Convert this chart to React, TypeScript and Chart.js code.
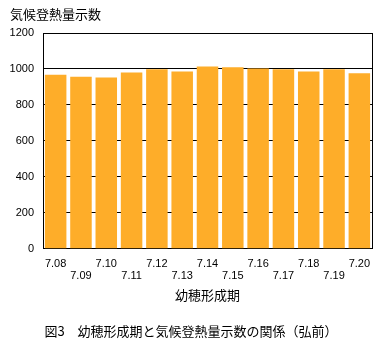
import React, { useEffect, useRef } from "react";
import { Chart, registerables } from "chart.js";

Chart.register(...registerables);

const categories = ["7.08", "7.09", "7.10", "7.11", "7.12", "7.13", "7.14", "7.15", "7.16", "7.17", "7.18", "7.19", "7.20"];
const values = [968, 957, 952, 981, 998, 986, 1014, 1009, 1003, 998, 986, 998, 976];
const yMin = 0;
const yMax = 1200;
const yStep = 200;
const chartTitle = "気候登熱量示数";
const xAxisTitle = "幼穂形成期";
const caption = "図3　幼穂形成期と気候登熱量示数の関係（弘前）";

const JP = "'Noto Sans CJK JP', sans-serif";
const NUM = "'Liberation Sans', Arial, sans-serif";

const framePlugin = {
  id: "frame",
  beforeDatasetsDraw(chart: any) {
    const { ctx, chartArea } = chart;
    const x = Math.round(chartArea.right) + 0.5;
    ctx.save();
    ctx.strokeStyle = "#000";
    ctx.lineWidth = 1;
    ctx.beginPath();
    ctx.moveTo(x, chartArea.top);
    ctx.lineTo(x, chartArea.bottom);
    ctx.stroke();
    ctx.restore();
  },
};

export default function App() {
  const ref = useRef<HTMLCanvasElement | null>(null);

  useEffect(() => {
    if (!ref.current) return;
    Chart.defaults.color = "#000";
    const chart = new Chart(ref.current, {
      type: "bar",
      data: {
        labels: categories,
        datasets: [
          {
            data: values,
            backgroundColor: "rgb(254,173,41)",
            borderWidth: 0,
            barPercentage: 0.85,
            categoryPercentage: 1,
          },
        ],
      },
      options: {
        responsive: false,
        animation: false,
        layout: { padding: { left: 10, right: 18, top: 0, bottom: 0 } },
        plugins: {
          legend: { display: false },
          tooltip: { enabled: false },
          title: {
            display: true,
            text: chartTitle,
            align: "start",
            color: "#000",
            font: { family: JP, size: 13, weight: "normal" },
            padding: { top: 6, bottom: 11.4 },
          },
          subtitle: {
            display: true,
            text: caption,
            position: "bottom",
            align: "center",
            color: "#000",
            font: { family: JP, size: 13, weight: "normal" },
            padding: { top: 0, bottom: 0 },
          },
        },
        scales: {
          x: {
            grid: { display: false, drawTicks: false },
            border: { display: true, color: "#000", width: 1 },
            ticks: {
              autoSkip: false,
              maxRotation: 0,
              minRotation: 0,
              padding: 9,
              color: "#000",
              font: { family: NUM, size: 11, lineHeight: 1.1 },
              callback: (_v: any, i: number) => (i % 2 === 0 ? [categories[i]] : ["", categories[i]]),
            },
            title: {
              display: true,
              text: xAxisTitle,
              color: "#000",
              font: { family: JP, size: 13, weight: "normal" },
              padding: { top: 0, bottom: 21 },
            },
            afterFit: (scale: any) => {
              scale.height = 74.6;
            },
          },
          y: {
            min: yMin,
            max: yMax,
            grid: { color: "#000", lineWidth: 1, drawTicks: false },
            border: { display: true, color: "#000", width: 1 },
            ticks: {
              stepSize: yStep,
              padding: 9,
              color: "#000",
              font: { family: NUM, size: 11 },
              callback: (v: any) => String(v),
            },
            afterFit: (scale: any) => {
              scale.width = 33;
            },
          },
        },
      },
      plugins: [framePlugin],
    } as any);
    return () => chart.destroy();
  }, []);

  return (
    <div style={{ position: "fixed", left: 0, top: 0, width: 390, height: 339, background: "#fff" }}>
      <canvas ref={ref} width={390} height={339} style={{ display: "block" }} />
    </div>
  );
}
